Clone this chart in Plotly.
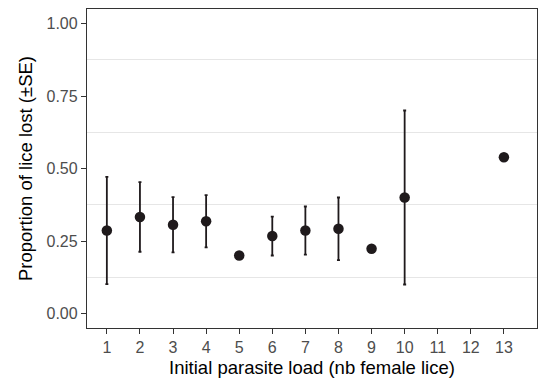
import plotly.graph_objects as go

load = [1, 2, 3, 4, 5, 6, 7, 8, 9, 10, 13]
prop_lost = [0.286, 0.333, 0.306, 0.318, 0.200, 0.267, 0.286, 0.292, 0.223, 0.400, 0.539]
se = [0.185, 0.120, 0.095, 0.090, 0.0, 0.067, 0.083, 0.108, 0.0, 0.300, 0.0]

x_ticks = list(range(1, 14))
y_ticks = [0.0, 0.25, 0.5, 0.75, 1.0]
y_tick_labels = ["0.00", "0.25", "0.50", "0.75", "1.00"]

dark = "#1f1a1c"
font_family = "Liberation Sans, Arial, sans-serif"

fig = go.Figure()
fig.add_trace(go.Scatter(
    x=load, y=prop_lost, mode="markers",
    marker=dict(size=10.5, color=dark),
    error_y=dict(type="data", array=se, visible=True, color=dark,
                 thickness=1.8, width=1.5),
    showlegend=False,
))

fig.update_layout(
    width=538, height=381,
    margin=dict(l=87, r=1, t=9, b=53),
    paper_bgcolor="white", plot_bgcolor="white",
    font=dict(family=font_family, size=16, color="black"),
)

fig.update_xaxes(
    range=[0.4, 14.0], tickmode="array", tickvals=x_ticks,
    ticks="outside", ticklen=5, tickwidth=1.3, tickcolor="#333333",
    tickfont=dict(size=16, color="#4d4d4d"),
    showgrid=False, zeroline=False,
    showline=True, mirror=True, linecolor="#333333", linewidth=1.3,
    title=dict(text="Initial parasite load (nb female lice)",
               font=dict(size=18.5, color="black"), standoff=5),
)
fig.update_yaxes(
    range=[-0.05, 1.05], tickmode="array", tickvals=y_ticks, ticktext=y_tick_labels,
    ticks="outside", ticklen=5, tickwidth=1.3, tickcolor="#333333",
    tickfont=dict(size=16, color="#4d4d4d"),
    showgrid=False, zeroline=False,
    minor=dict(tick0=0.125, dtick=0.25, showgrid=True, gridcolor="#e6e6e6", gridwidth=1.3),
    showline=True, mirror=True, linecolor="#333333", linewidth=1.3,
    title=dict(text="Proportion of lice lost (\u00b1SE)",
               font=dict(size=18.5, color="black"), standoff=9),
)

fig.write_html("out.html", config={"displayModeBar": False},
               post_script="document.body.style.margin='0';")
